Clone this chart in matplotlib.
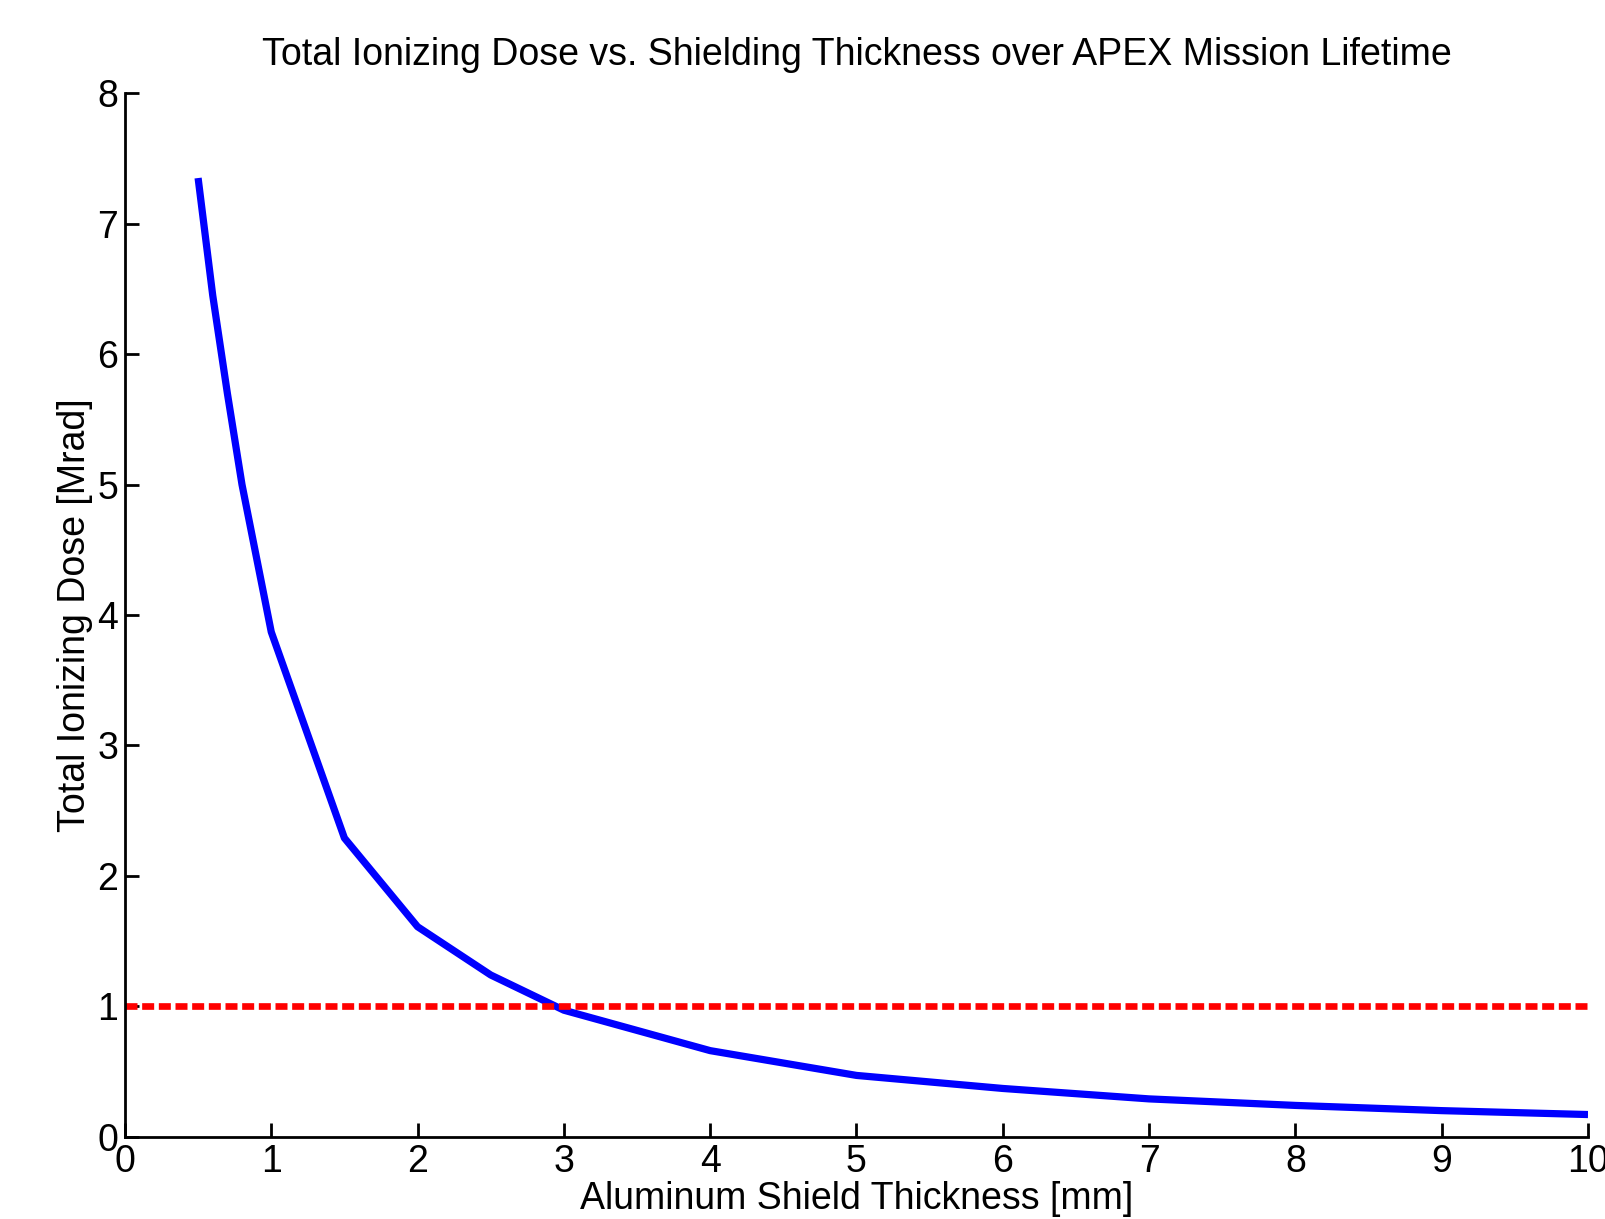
import matplotlib
matplotlib.use("Agg")
import matplotlib.pyplot as plt

plt.rcParams['font.family'] = ['Liberation Sans', 'DejaVu Sans']

# Shield thickness [mm] and total ionizing dose [Mrad]
thickness_mm = [0.5, 0.6, 0.7, 0.8, 1.0, 1.5, 2.0, 2.5, 3.0, 4.0, 5.0, 6.0, 7.0, 8.0, 9.0, 10.0]
dose_mrad = [7.35, 6.45, 5.70, 5.00, 3.87, 2.29, 1.61, 1.24, 0.97, 0.66, 0.47, 0.37, 0.29, 0.24, 0.20, 0.17]

# Design limit
limit_x = [0, 10]
limit_y = [1.0, 1.0]

x_ticks = list(range(0, 11))
y_ticks = list(range(0, 9))

fig = plt.figure(figsize=(16.06, 12.19), dpi=100)
ax = fig.add_axes([0.0778, 0.0675, 0.911, 0.856])

ax.plot(thickness_mm, dose_mrad, color='#0000ff', linewidth=5.2, solid_capstyle='butt')
ax.plot(limit_x, limit_y, color='#ff0000', linewidth=4.8, linestyle=(0, (1.8, 0.7)),
        dash_capstyle='butt')

ax.set_xlim(0, 10)
ax.set_ylim(0, 8)
ax.set_xticks(x_ticks)
ax.set_yticks(y_ticks)

for side in ['top', 'right']:
    ax.spines[side].set_visible(False)
for side in ['left', 'bottom']:
    ax.spines[side].set_linewidth(2.0)

ax.tick_params(direction='in', length=10, width=2.0, labelsize=27, pad=5)

ax.set_xlabel('Aluminum Shield Thickness [mm]', fontsize=27, labelpad=1)
ax.set_ylabel('Total Ionizing Dose [Mrad]', fontsize=27, labelpad=3)
ax.set_title('Total Ionizing Dose vs. Shielding Thickness over APEX Mission Lifetime',
             fontsize=27, pad=20)

fig.savefig('out.png', dpi=100)
